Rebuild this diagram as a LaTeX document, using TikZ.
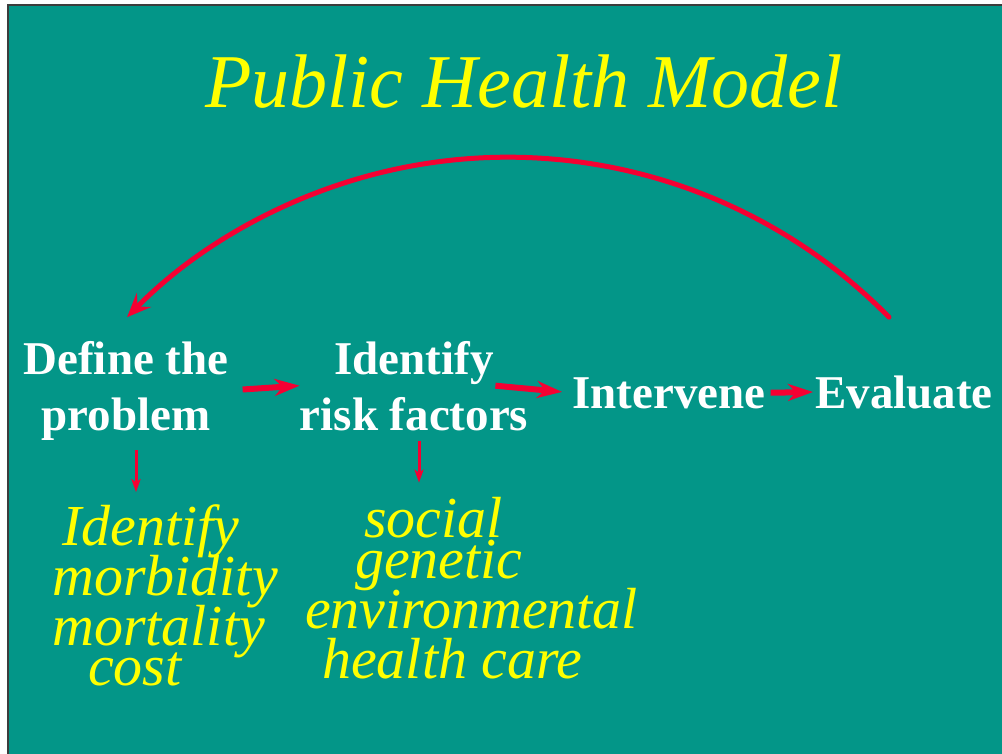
\documentclass[tikz,border=0pt]{standalone}
\usepackage{fontspec}
\setmainfont{Liberation Serif}[ItalicFont={Liberation Serif Italic},BoldFont={Liberation Serif Bold}]
\usetikzlibrary{arrows.meta,calc}
\definecolor{bgteal}{RGB}{3,150,136}
\definecolor{arrred}{RGB}{245,0,50}
\definecolor{ylw}{RGB}{255,255,0}
\definecolor{edgegray}{RGB}{60,60,60}
\begin{document}
\begin{tikzpicture}[x=1pt,y=-1pt,
  lbl/.style={text=white,font=\fontsize{47}{56}\selectfont\bfseries,inner sep=0pt,align=center},
  itm/.style={text=ylw,font=\fontsize{58}{58}\selectfont\itshape,inner sep=0pt,anchor=base west},
  harr/.style={draw=arrred,line width=6pt,-{Stealth[length=25pt,width=17pt,inset=8pt]}},
  varr/.style={draw=arrred,line width=3pt,-{Stealth[length=13pt,width=9pt,inset=3pt]}},
  bigarc/.style={draw=arrred,line width=5pt,line cap=round,-{Stealth[length=24pt,width=20pt,inset=9pt]}}
]
\useasboundingbox (0,0) rectangle (1002,754);
\fill[bgteal] (8,5) rectangle (1002,754);
\draw[edgegray,line width=1.5pt] (8,754) -- (8,5) -- (1002,5);

\node[anchor=base west,text=ylw,font=\fontsize{76}{76}\selectfont\itshape,inner sep=0pt] (title) at (205,108) {Public Health Model};

\node[lbl,anchor=base] (define) at (126,430) {Define the\\problem};
\node[lbl,anchor=base] (identify) at (414,430) {Identify\\risk factors};
\node[lbl,anchor=base west] (intervene) at (572,408) {Intervene};
\node[lbl,anchor=base west] (evaluate) at (815,408) {Evaluate};

\draw[harr,shorten <=14pt] (define.east) -- (identify.west);
\draw[harr,shorten >=10pt] ([xshift=-33pt]identify.east) -- (intervene.west);
\draw[harr,shorten <=5pt,shorten >=2pt] (intervene.east) -- (evaluate.west);

\node[itm] (m1) at (62,545) {Identify};
\node[itm] (m2) at (52,595) {morbidity};
\node[itm] (m3) at (52,645) {mortality};
\node[itm] (m4) at (88,685) {cost};

\node[itm] (r1) at (364,537) {social};
\node[itm] (r2) at (355,578) {genetic};
\node[itm] (r3) at (305,628) {environmental};
\node[itm] (r4) at (322,678) {health care};

\draw[varr] ($(define.south)+(10,10)$) -- ($(define.south)+(10,52)$);
\draw[varr] ($(identify.south)+(5,10)$) -- ($(identify.south)+(5,52)$);

\draw[bigarc] (evaluate.north) ++(-15,-58) arc[start angle=44.44,end angle=135.56,radius=533.6pt];
\end{tikzpicture}
\end{document}
